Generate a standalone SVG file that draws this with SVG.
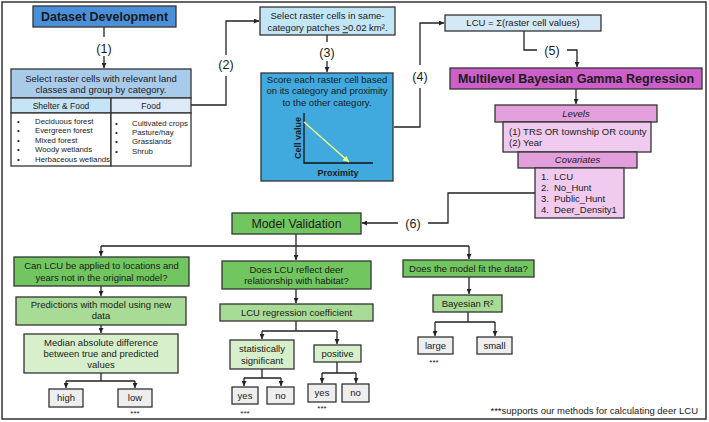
<svg xmlns="http://www.w3.org/2000/svg" width="709" height="422" viewBox="0 0 709 422">
<defs>
<marker id="ah" viewBox="0 0 10 10" refX="10" refY="5" markerWidth="5" markerHeight="5" orient="auto" markerUnits="userSpaceOnUse"><path d="M0,0 L10,5 L0,10 z" fill="#222"/></marker>
<marker id="ay" viewBox="0 0 10 10" refX="10" refY="5" markerWidth="6" markerHeight="6" orient="auto" markerUnits="userSpaceOnUse"><path d="M0,0 L10,5 L0,10 z" fill="#ffff80"/></marker>
</defs>
<style>
text{font-family:"Liberation Sans",Arial,sans-serif;fill:#1a1a1a;}
.b{stroke:#333;stroke-width:1.3;}
.t{font-size:9.5px;text-anchor:middle;}
.l{font-size:9.5px;text-anchor:start;}
.s{font-size:7.8px;}
.lbl{font-size:12.5px;text-anchor:middle;}
.c{fill:none;stroke:#222;stroke-width:1.3;}
.a{marker-end:url(#ah);}
.st{font-size:8px;text-anchor:middle;}
.g1{fill:#72c65f;}.g2{fill:#a8dc96;}.g3{fill:#d7f0cb;}.gr{fill:#eeeeee;}
</style>
<rect x="2" y="2" width="704" height="417" fill="#fff" stroke="#333" stroke-width="1.5"/>

<g id="connectors">
<path class="c" d="M104,27 V37"/><path class="c a" d="M104,56 V68"/>
<path class="c" d="M191,105 H226 V76"/><path class="c a" d="M226,55 V21 H259"/>
<path class="c" d="M327,35 V42"/><path class="c a" d="M327,61 V72"/>
<path class="c" d="M394,127 H420 V88"/><path class="c a" d="M420,65 V23 H444"/>
<path class="c" d="M524,31 V50 H537"/><path class="c a" d="M567,50 H577 V67"/>
<path class="c a" d="M576,89 V104"/>
<path class="c" d="M535,193 H448 V223 H428"/><path class="c a" d="M398,223 H362"/>
<path class="c" d="M296,234 V246 M101,246 H469"/>
<path class="c a" d="M101,246 V256"/><path class="c a" d="M296,246 V260"/><path class="c a" d="M469,246 V259"/>
<path class="c a" d="M101,286 V296"/><path class="c a" d="M101,325 V333"/>
<path class="c" d="M101,373 V381 M66,381 H135"/><path class="c a" d="M66,381 V388"/><path class="c a" d="M135,381 V388"/>
<path class="c a" d="M296,289 V303"/>
<path class="c" d="M296,321 V331 M262,331 H337"/><path class="c a" d="M262,331 V339"/><path class="c a" d="M337,331 V344"/>
<path class="c" d="M262,369 V378 M244,378 H281"/><path class="c a" d="M244,378 V386"/><path class="c a" d="M281,378 V386"/>
<path class="c" d="M337,362 V373 M322,373 H356"/><path class="c a" d="M322,373 V383"/><path class="c a" d="M356,373 V383"/>
<path class="c a" d="M469,277 V294"/>
<path class="c" d="M468,312 V322 M435,322 H495"/><path class="c a" d="M435,322 V336"/><path class="c a" d="M495,322 V336"/>
<text class="lbl" x="104" y="52.5">(1)</text>
<text class="lbl" x="226" y="68.5">(2)</text>
<text class="lbl" x="327" y="56.5">(3)</text>
<text class="lbl" x="420" y="80.5">(4)</text>
<text class="lbl" x="552" y="54.5">(5)</text>
<text class="lbl" x="413" y="227.5">(6)</text>
</g>

<g id="dataset-development">
<rect class="b" x="33" y="6" width="143" height="21" fill="#4a90d9"/>
<text x="104.5" y="21" style="font-size:12.5px;font-weight:bold;text-anchor:middle">Dataset Development</text>
</g>

<g id="select-land-classes">
<rect class="b" x="11" y="69" width="180" height="29" fill="#a9cbea"/>
<text class="t" x="101" y="81.5">Select raster cells with relevant land</text>
<text class="t" x="101" y="92.5">classes and group by category.</text>
<rect class="b" x="11" y="98" width="100" height="15" fill="#c5e4f6"/>
<rect class="b" x="111" y="98" width="80" height="15" fill="#dde9f6"/>
<text x="61" y="109" style="font-size:8.5px;text-anchor:middle">Shelter &amp; Food</text>
<text x="151" y="109" style="font-size:8.5px;text-anchor:middle">Food</text>
<rect class="b" x="11" y="113" width="100" height="53" fill="#fff"/>
<rect class="b" x="111" y="113" width="80" height="53" fill="#fff"/>
<g class="s">
<text x="17" y="123.7">•</text><text x="35" y="123.7">Deciduous forest</text>
<text x="17" y="133.2">•</text><text x="35" y="133.2">Evergreen forest</text>
<text x="17" y="142.7">•</text><text x="35" y="142.7">Mixed forest</text>
<text x="17" y="152.2">•</text><text x="35" y="152.2">Woody wetlands</text>
<text x="17" y="161.7">•</text><text x="35" y="161.7">Herbaceous wetlands</text>
<text x="115" y="125.7">•</text><text x="132" y="125.7">Cultivated crops</text>
<text x="115" y="135">•</text><text x="132" y="135">Pasture/hay</text>
<text x="115" y="144.3">•</text><text x="132" y="144.3">Grasslands</text>
<text x="115" y="153.6">•</text><text x="132" y="153.6">Shrub</text>
</g>
</g>

<g id="same-category">
<rect class="b" x="260" y="7" width="135" height="28" fill="#c2e6f6"/>
<text class="t" x="327.5" y="19.3">Select raster cells in same-</text>
<text class="t" x="327.5" y="31.3">category patches <tspan text-decoration="underline">&gt;</tspan>0.02 km².</text>
</g>

<g id="score-cells">
<rect class="b" x="261" y="73" width="132" height="108" fill="#40a9de"/>
<text class="t" x="327" y="83.3">Score each raster cell based</text>
<text class="t" x="327" y="94.3">on its category and proximity</text>
<text class="t" x="327" y="106.3">to the other category.</text>
<path d="M304,113 V163 H373" fill="none" stroke="#111" stroke-width="1.3"/>
<path d="M304,122 L349,162" stroke="#ffff80" stroke-width="1.3" marker-end="url(#ay)"/>
<text x="0" y="0" transform="translate(300.5,138) rotate(-90)" style="font-size:9px;font-weight:bold;text-anchor:middle">Cell value</text>
<text x="338" y="176" style="font-size:9px;font-weight:bold;text-anchor:middle">Proximity</text>
</g>

<g id="lcu-sum">
<rect class="b" x="445" y="15" width="156" height="16" fill="#d5e8f6"/>
<text class="t" x="523" y="26.3">LCU = Σ(raster cell values)</text>
</g>

<g id="mbgr">
<rect class="b" x="450" y="68" width="252" height="21" fill="#cd5fca"/>
<text x="576" y="83" style="font-size:12.5px;font-weight:bold;text-anchor:middle">Multilevel Bayesian Gamma Regression</text>
</g>

<g id="levels">
<rect class="b" x="495" y="105" width="162" height="17" fill="#e29fdc"/>
<text class="t" x="576" y="116.8" font-style="italic">Levels</text>
<rect class="b" x="503" y="122" width="148" height="30" fill="#f1cbef"/>
<text class="l" x="509" y="135">(1) TRS OR township OR county</text>
<text class="l" x="509" y="146">(2) Year</text>
</g>

<g id="covariates">
<rect class="b" x="518" y="152" width="119" height="16" fill="#e29fdc"/>
<text class="t" x="577.5" y="163.3" font-style="italic">Covariates</text>
<rect class="b" x="535" y="168" width="89" height="50" fill="#f1cbef"/>
<text class="l" x="541" y="180.3">1.</text><text class="l" x="554" y="180.3">LCU</text>
<text class="l" x="541" y="191.3">2.</text><text class="l" x="554" y="191.3">No_Hunt</text>
<text class="l" x="541" y="202.3">3.</text><text class="l" x="554" y="202.3">Public_Hunt</text>
<text class="l" x="541" y="213.3">4.</text><text class="l" x="554" y="213.3">Deer_Density1</text>
</g>

<g id="model-validation">
<rect class="b g1" x="232" y="213" width="129" height="21"/>
<text x="296.5" y="228.3" style="font-size:12.3px;text-anchor:middle">Model Validation</text>
</g>

<g id="q-applied">
<rect class="b g1" x="14" y="257" width="175" height="29"/>
<text class="t" x="101.5" y="269.3">Can LCU be applied to locations and</text>
<text class="t" x="101.5" y="281.3">years not in the original model?</text>
</g>
<g id="predictions">
<rect class="b g2" x="16" y="297" width="170" height="28"/>
<text class="t" x="101" y="308.3">Predictions with model using new</text>
<text class="t" x="101" y="319.3">data</text>
</g>
<g id="median">
<rect class="b g3" x="24" y="334" width="154" height="39"/>
<text class="t" x="101" y="346.3">Median absolute difference</text>
<text class="t" x="101" y="357.3">between true and predicted</text>
<text class="t" x="101" y="368.3">values</text>
</g>
<g id="high"><rect class="b gr" x="49" y="389" width="34" height="18"/><text class="t" x="66" y="401.3">high</text></g>
<g id="low"><rect class="b gr" x="118" y="389" width="34" height="18"/><text class="t" x="135" y="401.3">low</text><text class="st" x="135" y="416">***</text></g>

<g id="q-reflect">
<rect class="b g1" x="222" y="261" width="149" height="28"/>
<text class="t" x="296.5" y="273.3">Does LCU reflect deer</text>
<text class="t" x="296.5" y="284.3">relationship with habitat?</text>
</g>
<g id="coefficient">
<rect class="b g2" x="220" y="304" width="153" height="17"/>
<text class="t" x="296.5" y="315.8">LCU regression coefficient</text>
</g>
<g id="significant">
<rect class="b g3" x="230" y="340" width="64" height="29"/>
<text class="t" x="262" y="352.3">statistically</text>
<text class="t" x="262" y="364.3">significant</text>
</g>
<g id="positive">
<rect class="b g3" x="314" y="345" width="47" height="17"/>
<text class="t" x="337.5" y="357">positive</text>
</g>
<g id="yes1"><rect class="b gr" x="232" y="387" width="26" height="17"/><text class="t" x="245" y="398.8">yes</text><text class="st" x="245" y="416">***</text></g>
<g id="no1"><rect class="b gr" x="267" y="387" width="27" height="17"/><text class="t" x="280.5" y="398.8">no</text></g>
<g id="yes2"><rect class="b gr" x="308" y="384" width="28" height="18"/><text class="t" x="322" y="395.8">yes</text><text class="st" x="322" y="411">***</text></g>
<g id="no2"><rect class="b gr" x="342" y="384" width="27" height="18"/><text class="t" x="355.5" y="395.8">no</text></g>

<g id="q-fit">
<rect class="b g1" x="403" y="260" width="131" height="17"/>
<text class="t" x="468.5" y="271.8">Does the model fit the data?</text>
</g>
<g id="bayes-r2">
<rect class="b g2" x="433" y="295" width="69" height="17"/>
<text class="t" x="467.5" y="306.8">Bayesian R²</text>
</g>
<g id="large"><rect class="b gr" x="418" y="337" width="35" height="17"/><text class="t" x="435.5" y="348.8">large</text><text class="st" x="434" y="365">***</text></g>
<g id="small"><rect class="b gr" x="477" y="337" width="35" height="17"/><text class="t" x="494.5" y="348.8">small</text></g>

<text x="698" y="413.5" style="font-size:9.5px;text-anchor:end">***supports our methods for calculating deer LCU</text>
</svg>
